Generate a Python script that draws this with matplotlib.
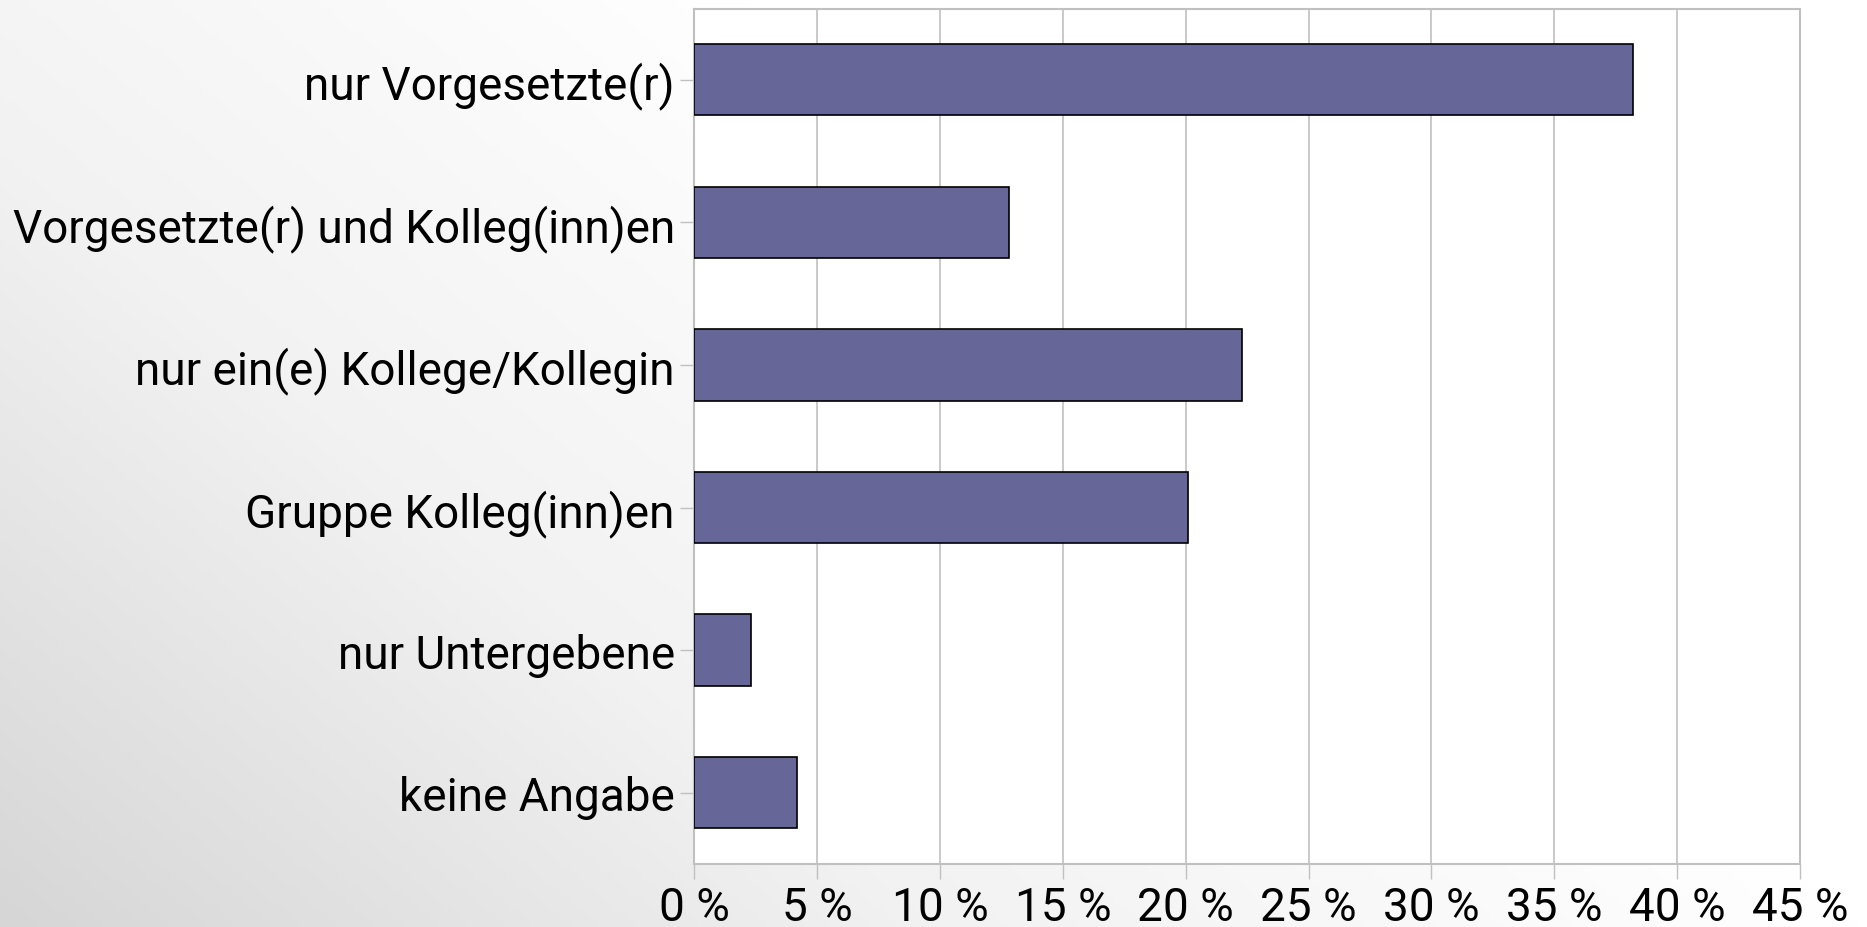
import numpy as np
import matplotlib
matplotlib.use("Agg")
import matplotlib.pyplot as plt
from matplotlib.colors import LinearSegmentedColormap

categories = ["nur Vorgesetzte(r)", "Vorgesetzte(r) und Kolleg(inn)en",
              "nur ein(e) Kollege/Kollegin", "Gruppe Kolleg(inn)en",
              "nur Untergebene", "keine Angabe"]
values = [38.2, 12.8, 22.3, 20.1, 2.3, 4.2]
xticks = [0, 5, 10, 15, 20, 25, 30, 35, 40, 45]
xticklabels = [f"{t} %" for t in xticks]

plt.rcParams['font.family'] = ['Roboto', 'DejaVu Sans']

fig = plt.figure(figsize=(18.67, 9.28), dpi=100)

# background gradient (bottom-left gray -> top-right white)
bg = fig.add_axes([0, 0, 1, 1], zorder=-10)
h, w = 200, 400
yy, xx = np.mgrid[0:1:complex(0, h), 0:1:complex(0, w)]
t = np.clip(0.5 * (xx * 2.0) + 0.5 * (1 - yy) * 1.2, 0, 1)
cmap = LinearSegmentedColormap.from_list("bg", ["#d6d6d6", "#f2f2f2", "#ffffff"])
bg.imshow(t, cmap=cmap, aspect='auto', extent=[0, 1, 0, 1], vmin=0, vmax=1)
bg.axis('off')

ax = fig.add_axes([694.3 / 1867, 1 - 865 / 928, (1800 - 694.3) / 1867, (865 - 9.5) / 928])
ax.set_facecolor('white')
y = np.arange(len(categories))
ax.barh(y, values, height=0.5, color='#666699', edgecolor='black', linewidth=1.2, zorder=3)
ax.set_ylim(len(categories) - 0.5, -0.5)
ax.set_xlim(0, 45)
ax.set_yticks(y)
ax.set_yticklabels(categories, fontsize=33)
ax.set_xticks(xticks)
ax.set_xticklabels(xticklabels, fontsize=33)
ax.grid(axis='x', color='#c0c0c0', linewidth=1.2, zorder=0)
for s in ax.spines.values():
    s.set_color('#c0c0c0')
    s.set_linewidth(1.5)
ax.tick_params(axis='y', length=10, color='#c0c0c0', width=1, pad=4)
ax.tick_params(axis='x', length=11, color='#c0c0c0', width=1, pad=4)

fig.savefig("out.png", dpi=100)
